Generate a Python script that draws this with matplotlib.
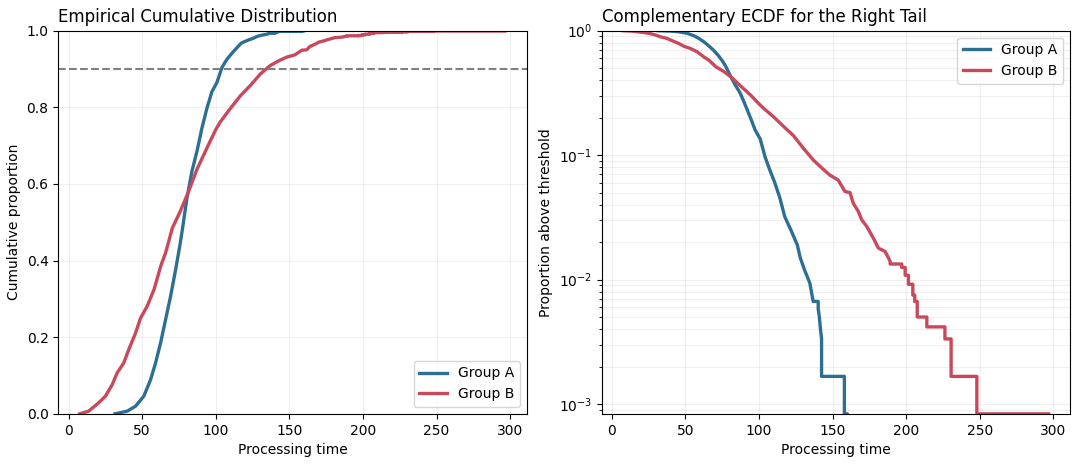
import numpy as np
import matplotlib
matplotlib.use("Agg")
import matplotlib.pyplot as plt

# path vertices of each ECDF:
# time and proportion of observations above that time
n_obs = 1200

a_time = [31.5, 39.8, 45.5, 51.1, 55.7, 59.1, 62.5, 65.9, 69.3, 72.7, 75.5, 77.3,
          80.4, 83.8, 87.2, 90.6, 94.0, 97.4, 100.8, 104.2, 107.5, 110.5, 114.0,
          117.5, 122.0, 126.0, 128.0, 131.1, 134.5, 136.8, 140.2, 140.2, 141.0,
          141.6, 142.5, 142.5, 158.0, 158.0, 160.0, 160.0]
a_above = [1.0, 0.993, 0.980, 0.954, 0.911, 0.867, 0.815, 0.754, 0.693, 0.624, 0.563, 0.519,
           0.437, 0.367, 0.315, 0.254, 0.202, 0.159, 0.135, 0.096, 0.075, 0.061, 0.046,
           0.032, 0.0245, 0.0190, 0.0150, 0.0118, 0.0094, 8 / n_obs, 8 / n_obs, 7 / n_obs, 6 / n_obs,
           5 / n_obs, 4 / n_obs, 2 / n_obs, 2 / n_obs, 1 / n_obs, 1 / n_obs, 0.0]

b_time = [7.5, 13.6, 20.5, 25.0, 29.6, 33.0, 37.5, 40.9, 45.5, 48.9, 53.4, 58.0,
          62.8, 65.9, 70.5, 75.8, 81.5, 87.2, 94.0, 100.0, 103.1, 109.9, 116.7, 123.5,
          130.3, 137.0, 143.6, 148.2, 153.8, 158.4, 161.8, 164.0, 167.5, 169.8, 173.2,
          177.7, 181.1, 185.7, 189.1, 189.1, 197.0, 197.0, 199.3, 199.3, 201.5, 201.5,
          204.5, 204.5, 205.8, 205.8, 207.5, 207.5, 214.0, 214.0, 226.3, 226.3, 230.5,
          230.5, 248.0, 248.0, 297.0, 297.0]
b_above = [1.0, 0.993, 0.971, 0.954, 0.924, 0.893, 0.867, 0.832, 0.789, 0.750, 0.719, 0.676,
           0.612, 0.580, 0.515, 0.472, 0.420, 0.362, 0.306, 0.258, 0.238, 0.203, 0.170, 0.143,
           0.113, 0.091, 0.077, 0.069, 0.063, 0.051, 0.050, 0.0411, 0.0352, 0.0302, 0.0267,
           0.0215, 0.0179, 0.0168, 0.0140, 16 / n_obs, 16 / n_obs, 15 / n_obs, 15 / n_obs, 13 / n_obs,
           13 / n_obs, 11 / n_obs, 11 / n_obs, 9 / n_obs, 9 / n_obs, 8 / n_obs, 8 / n_obs, 6 / n_obs,
           6 / n_obs, 5 / n_obs, 5 / n_obs, 4 / n_obs, 4 / n_obs, 2 / n_obs, 2 / n_obs, 1 / n_obs,
           1 / n_obs, 0.0]

groups = ["Group A", "Group B"]
colors = ["#2d6e93", "#c9485b"]
threshold = 0.9

fig, (ax1, ax2) = plt.subplots(1, 2, figsize=(10.8, 4.65), dpi=100)
fig.subplots_adjust(left=0.054, right=0.991, bottom=0.11, top=0.934, wspace=0.159)

series = [(a_time, a_above), (b_time, b_above)]

# left: ECDF
for (t, above), name, c in zip(series, groups, colors):
    ax1.plot(t, 1 - np.array(above), color=c, lw=2.4, label=name)
ax1.axhline(threshold, color="gray", ls="--", lw=1.5)
ax1.set_ylim(0, 1)
ax1.set_xlabel("Processing time")
ax1.set_ylabel("Cumulative proportion")
ax1.set_title("Empirical Cumulative Distribution", loc="left", fontsize=12)
ax1.grid(True, alpha=0.18)
ax1.legend(loc="lower right")

# right: complementary ECDF on log scale
for (t, above), name, c in zip(series, groups, colors):
    ax2.plot(t, above, color=c, lw=2.4, label=name)
ax2.set_yscale("log")
ax2.set_ylim(1 / n_obs, 1)
ax2.set_xlabel("Processing time")
ax2.set_ylabel("Proportion above threshold")
ax2.set_title("Complementary ECDF for the Right Tail", loc="left", fontsize=12)
ax2.grid(True, which="both", alpha=0.18)
ax2.legend(loc="upper right")

plt.savefig("out.png")
